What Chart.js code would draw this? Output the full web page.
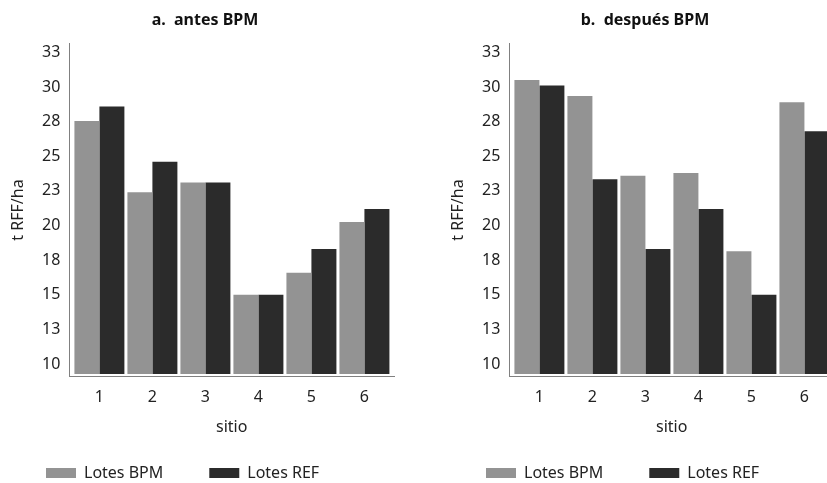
<!DOCTYPE html>
<html lang="es">
<head>
<meta charset="utf-8">
<title>t RFF/ha antes y después BPM</title>
<script src="https://cdn.jsdelivr.net/npm/chart.js@4.4.1/dist/chart.umd.min.js"></script>
<style>
  html, body { margin: 0; padding: 0; background: #fff; overflow: hidden; }
  #wrap { position: relative; width: 827px; height: 483px; overflow: hidden; }
  canvas { position: absolute; top: 0; }
  #chart-a { left: 0; }
  #chart-b { left: 440px; }
</style>
</head>
<body>
<div id="wrap">
  <canvas id="chart-a" width="440" height="483"></canvas>
  <canvas id="chart-b" width="440" height="483"></canvas>
</div>
<script>
'use strict';

//***********Data***********
let sitios = ['1', '2', '3', '4', '5', '6'];

let antesBPM = [27.55, 22.4, 23.1, 15.0, 16.6, 20.25];
let antesREF = [28.6, 24.6, 23.1, 15.0, 18.3, 21.2];

let despuesBPM = [30.5, 29.35, 23.6, 23.8, 18.15, 28.9];
let despuesREF = [30.1, 23.35, 18.3, 21.2, 15.0, 26.8];

let yTicks = [10, 12.5, 15, 17.5, 20, 22.5, 25, 27.5, 30, 32.5];
let yTickLabels = ['10', '13', '15', '18', '20', '23', '25', '28', '30', '33'];

let seriesNames = ['Lotes BPM', 'Lotes REF'];
let seriesColors = ['#939393', '#2b2b2b'];

//***********Defaults***********
Chart.defaults.font.family = '"Noto Sans", "DejaVu Sans", sans-serif';
Chart.defaults.font.size = 16;
Chart.defaults.color = '#222';

let axisColor = '#808080';

//***********Chart builder***********
function makeChart(canvasId, titleText, bpm, ref) {
  let ctx = document.getElementById(canvasId).getContext('2d');

  return new Chart(ctx, {
    type: 'bar',
    data: {
      labels: sitios,
      datasets: [
        { label: seriesNames[0], data: bpm, backgroundColor: seriesColors[0], borderWidth: 0 },
        { label: seriesNames[1], data: ref, backgroundColor: seriesColors[1], borderWidth: 0 }
      ]
    },
    options: {
      responsive: false,
      animation: false,
      layout: { padding: { left: 0, right: 30, top: 0, bottom: -8 } },
      datasets: {
        bar: { categoryPercentage: 0.943, barPercentage: 1, base: 9.28 }
      },
      scales: {
        x: {
          type: 'linear',
          offset: false,
          min: 0.432,
          max: 6.558,
          grid: { display: false, drawTicks: false },
          border: { color: axisColor, width: 1 },
          afterBuildTicks: (scale) => {
            scale.ticks = sitios.map((s) => ({ value: Number(s) }));
          },
          ticks: {
            padding: 10.7,
            color: '#222',
            callback: (value, index) => sitios[index]
          },
          title: {
            display: true,
            text: 'sitio',
            color: '#222',
            padding: { top: 0, bottom: -17.6 }
          }
        },
        y: {
          min: 9.083,
          max: 33.155,
          grid: { display: false, drawTicks: false },
          border: { color: axisColor, width: 1 },
          afterBuildTicks: (scale) => {
            scale.ticks = yTicks.map((v) => ({ value: v }));
          },
          ticks: {
            padding: 9,
            color: '#222',
            callback: (value, index) => yTickLabels[index]
          },
          title: {
            display: true,
            text: 't RFF/ha',
            color: '#222',
            padding: { top: 8.4, bottom: 0 }
          },
          afterFit: (scale) => {
            scale.width = 69.3;
          }
        },
        // empty strip on the right so the plot ends where the original does
        yPad: {
          type: 'linear',
          position: 'right',
          display: true,
          grid: { display: false, drawTicks: false },
          border: { display: false },
          ticks: { display: false },
          afterFit: (scale) => {
            scale.width = 16;
          }
        }
      },
      plugins: {
        title: {
          display: true,
          text: titleText,
          color: '#111',
          font: { size: 16, weight: 'bold' },
          padding: { top: 10.4, bottom: 13.7 }
        },
        legend: {
          position: 'bottom',
          align: 'start',
          labels: {
            boxWidth: 30,
            boxHeight: 10,
            padding: 46,
            color: '#222'
          }
        },
        tooltip: { enabled: false }
      }
    }
  });
}

makeChart('chart-a', 'a.  antes BPM', antesBPM, antesREF);
makeChart('chart-b', 'b.  después BPM', despuesBPM, despuesREF);
</script>
</body>
</html>
